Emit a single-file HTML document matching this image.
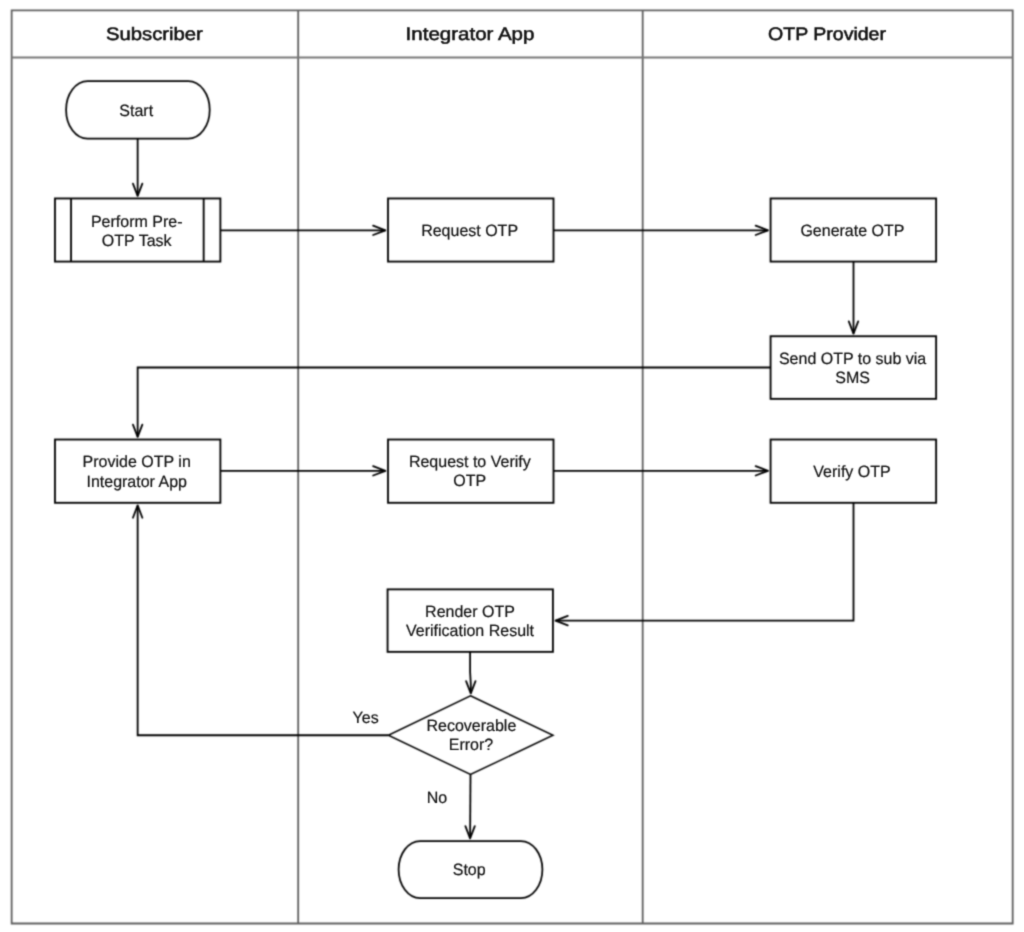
<!DOCTYPE html>
<html><head><meta charset="utf-8"><style>
html,body{margin:0;padding:0;background:#fff;}
body{width:1024px;height:932px;overflow:hidden;}
svg{display:block;}
.hd text{stroke:#111;stroke-width:0.6px;fill:#111;}
text{text-rendering:geometricPrecision;font-family:"Liberation Sans",sans-serif;fill:#111;stroke:#111;stroke-width:0.2px;}
</style></head><body>
<svg width="1024" height="932" viewBox="0 0 1024 932">
<defs><filter id="bl" color-interpolation-filters="sRGB" x="0" y="0" width="1024" height="932" filterUnits="userSpaceOnUse"><feConvolveMatrix order="5" kernelMatrix="0.00009 0.00198 0.00548 0.00198 0.00009 0.00198 0.04220 0.11707 0.04220 0.00198 0.00548 0.11707 0.32480 0.11707 0.00548 0.00198 0.04220 0.11707 0.04220 0.00198 0.00009 0.00198 0.00548 0.00198 0.00009" divisor="1.00000" edgeMode="duplicate"/></filter><filter id="bt" color-interpolation-filters="sRGB" x="0" y="0" width="1024" height="932" filterUnits="userSpaceOnUse"><feConvolveMatrix order="3" kernelMatrix="1 4 1 4 16 4 1 4 1" divisor="36" edgeMode="none"/></filter></defs>
<g filter="url(#bl)">
<rect width="1024" height="932" fill="#fff"/>
<g fill="none" stroke="#5f5f5f" stroke-width="1.8">
<path d="M11.65,10.34 L1012.69,10.34 L1012.69,923.5 L11.65,923.5 Z M298.19,10.34 L298.19,923.5 M642.69,10.34 L642.69,923.5"/>
<path d="M11.65,57.5 L1012.69,57.5" stroke="#777"/>
</g>
<g fill="none" stroke="#000" stroke-width="1.85" stroke-linejoin="miter">
<rect stroke-width="1.75" x="66.1" y="81.1" width="143.6" height="57.5" rx="21.5" ry="28.7"/>
<rect x="54.97" y="198.46" width="165.41" height="63.12999999999997"/>
<path d="M71.05,198.46 L71.05,261.59"/>
<path d="M203.67,198.46 L203.67,261.59"/>
<rect x="388.0" y="198.46" width="165.5" height="63.12999999999997"/>
<rect x="770.57" y="198.46" width="165.54999999999995" height="63.12999999999997"/>
<rect x="770.57" y="336.23" width="165.54999999999995" height="62.639999999999986"/>
<rect x="54.97" y="439.52" width="165.41" height="63.29000000000002"/>
<rect x="388.0" y="439.52" width="165.5" height="63.29000000000002"/>
<rect x="770.57" y="439.52" width="165.54999999999995" height="63.29000000000002"/>
<rect x="387.57" y="589.36" width="165.34999999999997" height="62.50999999999999"/>
<path stroke-width="1.5" d="M470.5,695.8 L553.0,735.3 L470.5,774.5 L388.3,735.25 Z"/>
<rect stroke-width="1.75" x="398.6" y="841.0" width="143.8" height="57.2" rx="21.5" ry="28.6"/>
<path stroke-width="1.8" d="M137.65,138.6 L137.65,195.86"/>
<path stroke-width="1.8" d="M220.38,230.3 L385.4,230.3"/>
<path stroke-width="1.8" d="M553.5,230.3 L767.97,230.3"/>
<path stroke-width="1.8" d="M853.5,261.59 L853.5,333.63"/>
<path stroke-width="1.8" d="M770.57,367.5 L137.65,367.5 L137.65,436.91999999999996"/>
<path stroke-width="1.8" d="M220.38,470.81 L385.4,470.81"/>
<path stroke-width="1.8" d="M553.5,470.81 L767.97,470.81"/>
<path stroke-width="1.8" d="M853.5,502.81 L853.5,620.6 L555.52,620.6"/>
<path stroke-width="1.8" d="M470.1,651.87 L470.1,672 L470.8,684 L470.8,693.4"/>
<path stroke-width="1.8" d="M388.3,735.25 L137.65,735.25 L137.65,505.41"/>
<path stroke-width="1.8" d="M470.5,774.5 L470.1,838.4"/>
</g>
<g fill="none" stroke="#000" stroke-width="1.8" stroke-linecap="round" stroke-linejoin="round">
<path d="M132.95000000000002,183.56 L137.65,195.86 L142.35,183.56"/>
<path d="M373.09999999999997,225.60000000000002 L385.4,230.3 L373.09999999999997,235.0"/>
<path d="M755.6700000000001,225.60000000000002 L767.97,230.3 L755.6700000000001,235.0"/>
<path d="M848.8,321.33 L853.5,333.63 L858.2,321.33"/>
<path d="M132.95000000000002,424.61999999999995 L137.65,436.91999999999996 L142.35,424.61999999999995"/>
<path d="M373.09999999999997,466.11 L385.4,470.81 L373.09999999999997,475.51"/>
<path d="M755.6700000000001,466.11 L767.97,470.81 L755.6700000000001,475.51"/>
<path d="M567.8199999999999,615.9 L555.52,620.6 L567.8199999999999,625.3000000000001"/>
<path d="M466.1,681.1 L470.8,693.4 L475.5,681.1"/>
<path d="M132.95000000000002,517.71 L137.65,505.41 L142.35,517.71"/>
<path d="M465.40000000000003,826.1 L470.1,838.4 L474.8,826.1"/>
</g>
</g>
<g filter="url(#bt)">
<g class="hd">
<text transform="translate(154.4,40) scale(1,0.89)" font-size="20.3" font-weight="normal" text-anchor="middle">Subscriber</text>
<text transform="translate(470.0,40) scale(1,0.89)" font-size="20.5" font-weight="normal" text-anchor="middle">Integrator App</text>
<text transform="translate(827.0,40) scale(1,0.925)" font-size="19.55" font-weight="normal" text-anchor="middle">OTP Provider</text>
</g>
<text transform="translate(136.2,115.7) scale(1,1.02)" font-size="16" font-weight="normal" text-anchor="middle">Start</text>
<text transform="translate(136.7,226.8) scale(1,1.02)" font-size="16" font-weight="normal" text-anchor="middle">Perform Pre-</text>
<text transform="translate(136.7,245.7) scale(1,1.02)" font-size="16" font-weight="normal" text-anchor="middle">OTP Task</text>
<text transform="translate(469.6,236.2) scale(1,1.02)" font-size="16" font-weight="normal" text-anchor="middle">Request OTP</text>
<text transform="translate(852.4,235.7) scale(1,1.02)" font-size="16" font-weight="normal" text-anchor="middle">Generate OTP</text>
<text transform="translate(852.6,363.7) scale(1,1.02)" font-size="16" font-weight="normal" text-anchor="middle">Send OTP to sub via</text>
<text transform="translate(852.6,383) scale(1,1.02)" font-size="16" font-weight="normal" text-anchor="middle">SMS</text>
<text transform="translate(136.7,466.9) scale(1,1.02)" font-size="16" font-weight="normal" text-anchor="middle">Provide OTP in</text>
<text transform="translate(136.7,486.7) scale(1,1.02)" font-size="16" font-weight="normal" text-anchor="middle">Integrator App</text>
<text transform="translate(469.8,466.9) scale(1,1.02)" font-size="16" font-weight="normal" text-anchor="middle">Request to Verify</text>
<text transform="translate(469.8,486) scale(1,1.02)" font-size="16" font-weight="normal" text-anchor="middle">OTP</text>
<text transform="translate(852.0,476.5) scale(1,1.02)" font-size="16" font-weight="normal" text-anchor="middle">Verify OTP</text>
<text transform="translate(470.0,616.5) scale(1,1.02)" font-size="16" font-weight="normal" text-anchor="middle">Render OTP</text>
<text transform="translate(470.0,635.6) scale(1,1.02)" font-size="16" font-weight="normal" text-anchor="middle">Verification Result</text>
<text transform="translate(471.4,731.3) scale(1,1.02)" font-size="16" font-weight="normal" text-anchor="middle">Recoverable</text>
<text transform="translate(471.0,750) scale(1,1.02)" font-size="16" font-weight="normal" text-anchor="middle">Error?</text>
<text transform="translate(469.2,875.4) scale(1,1.02)" font-size="16" font-weight="normal" text-anchor="middle">Stop</text>
<text transform="translate(365.6,722.8) scale(1,1.02)" font-size="16" font-weight="normal" text-anchor="middle">Yes</text>
<text transform="translate(437.0,803) scale(1,1.02)" font-size="16" font-weight="normal" text-anchor="middle">No</text>
</g>
</svg>
</body></html>
